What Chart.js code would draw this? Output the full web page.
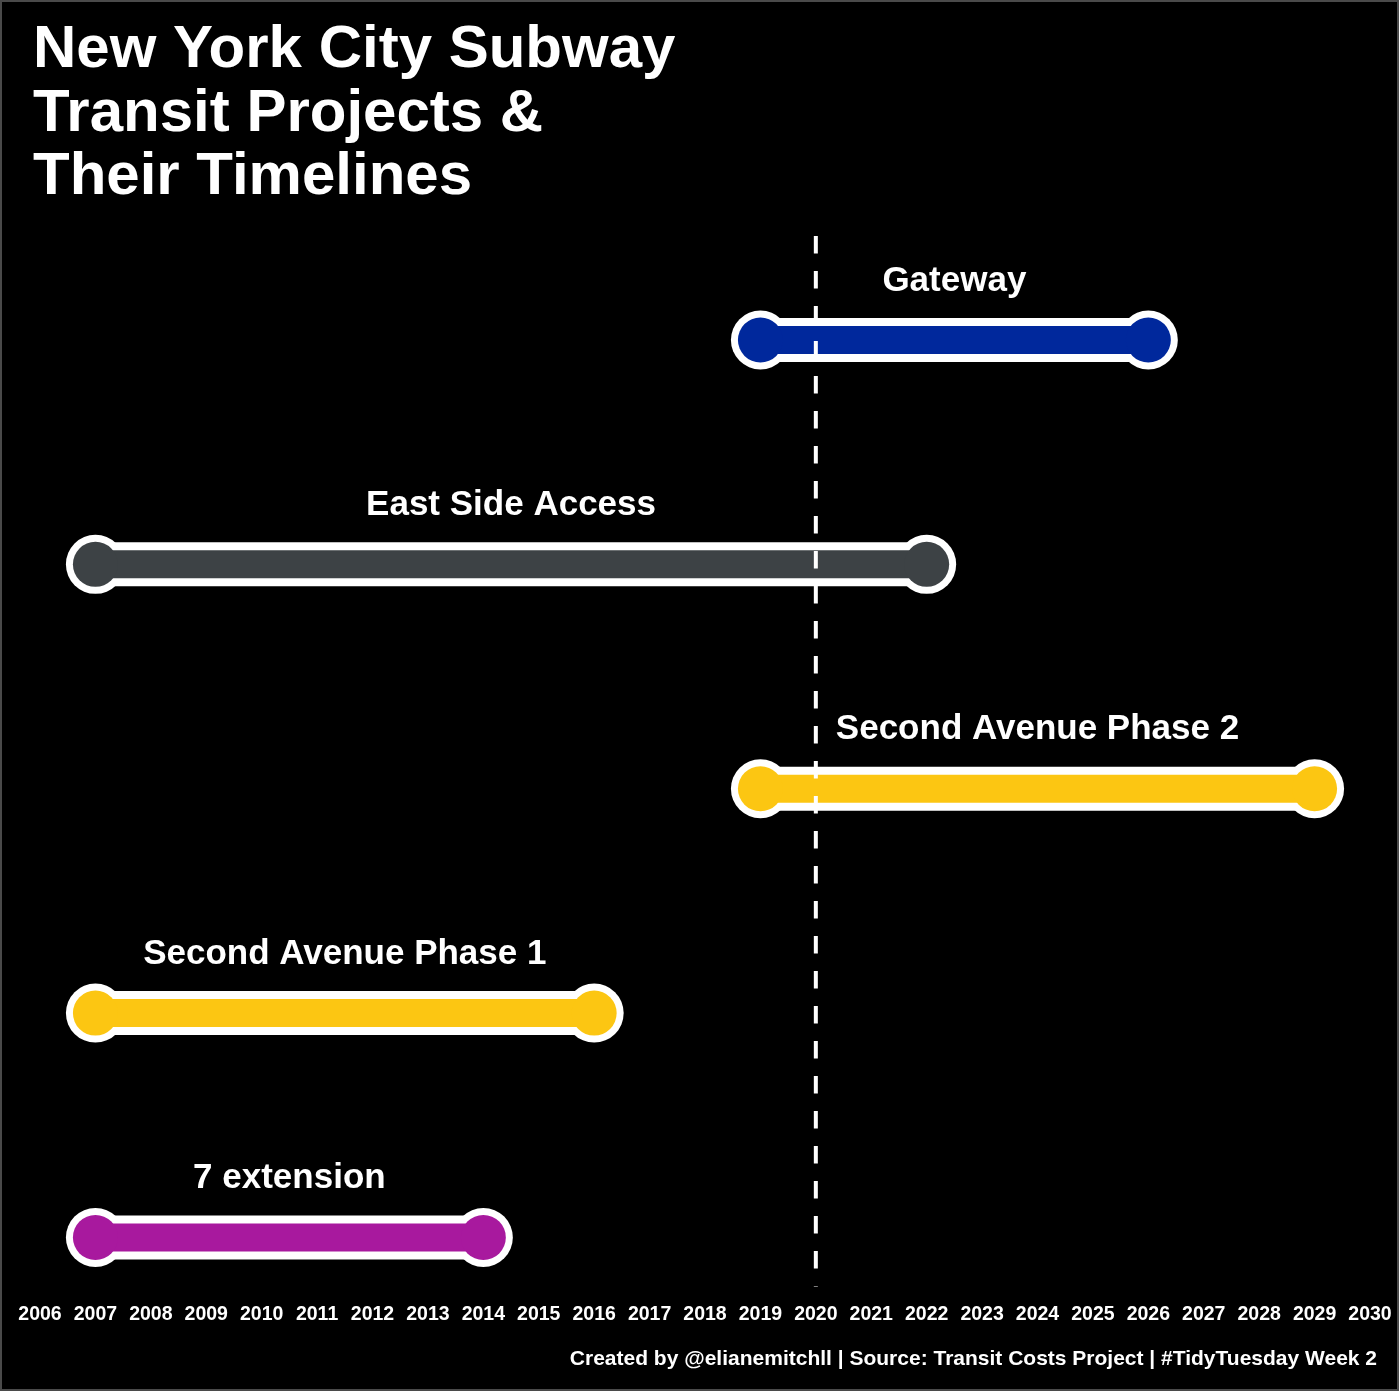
<!DOCTYPE html>
<html>
<head>
<meta charset="utf-8">
<script src="https://cdn.jsdelivr.net/npm/chart.js@4.4.1/dist/chart.umd.min.js"></script>
<style>
  html, body { margin: 0; padding: 0; background: #000; }
  #wrap { width: 1399px; height: 1391px; position: relative; }
  canvas { display: block; }
</style>
</head>
<body>
<div id="wrap"><canvas id="c" width="1399" height="1391"></canvas></div>
<script>
// ---- data ----
const projects = ["7 extension", "Second Avenue Phase 1", "Second Avenue Phase 2", "East Side Access", "Gateway"];
const startYears = [2007, 2007, 2019, 2007, 2019];
const endYears = [2014, 2016, 2029, 2022, 2026];
const lineColors = ["#A8199E", "#FCC612", "#FCC612", "#3D4245", "#00289C"];
const yearTicks = [2006, 2007, 2008, 2009, 2010, 2011, 2012, 2013, 2014, 2015, 2016, 2017, 2018,
                   2019, 2020, 2021, 2022, 2023, 2024, 2025, 2026, 2027, 2028, 2029, 2030];
const referenceYear = 2020;
const titleLines = ["New York City Subway", "Transit Projects &", "Their Timelines"];
const captionText = "Created by @elianemitchll | Source: Transit Costs Project | #TidyTuesday Week 2";

const FONT = "'Liberation Sans', 'Helvetica Neue', Helvetica, Arial, sans-serif";

// ---- datasets ----
const datasets = [];
projects.forEach((p, i) => {
  const pts = [{x: startYears[i], y: i + 1}, {x: endYears[i], y: i + 1}];
  datasets.push({
    label: p + " outline",
    data: pts,
    borderColor: "#ffffff",
    borderWidth: 44,
    pointRadius: 29.5,
    pointBackgroundColor: "#ffffff",
    pointBorderWidth: 0,
    order: 2
  });
  datasets.push({
    label: p,
    data: pts,
    borderColor: lineColors[i],
    borderWidth: 28,
    pointRadius: 22.5,
    pointBackgroundColor: lineColors[i],
    pointBorderWidth: 0,
    order: 1
  });
});

const decorPlugin = {
  id: "decor",
  beforeDraw(chart) {
    const ctx = chart.ctx;
    ctx.save();
    ctx.fillStyle = "#000";
    ctx.fillRect(0, 0, chart.width, chart.height);
    ctx.restore();
  },
  afterDatasetsDraw(chart) {
    const ctx = chart.ctx;
    const xs = chart.scales.x, ys = chart.scales.y;
    const area = chart.chartArea;
    // project labels
    ctx.save();
    ctx.fillStyle = "#fff";
    ctx.font = "bold 35px " + FONT;
    ctx.textAlign = "center";
    ctx.textBaseline = "alphabetic";
    projects.forEach((p, i) => {
      const mid = (startYears[i] + endYears[i]) / 2;
      ctx.fillText(p, xs.getPixelForValue(mid), ys.getPixelForValue(i + 1 + 0.22));
    });
    ctx.restore();
    // dashed reference line
    ctx.save();
    ctx.strokeStyle = "#fff";
    ctx.lineWidth = 4;
    ctx.setLineDash([17.5, 17.5]);
    const xr = xs.getPixelForValue(referenceYear);
    ctx.beginPath();
    ctx.moveTo(xr, area.top + 1);
    ctx.lineTo(xr, area.bottom + 2);
    ctx.stroke();
    ctx.restore();
  },
  afterDraw(chart) {
    const ctx = chart.ctx;
    ctx.save();
    // title
    ctx.fillStyle = "#fff";
    ctx.font = "bold 60px " + FONT;
    ctx.textAlign = "left";
    ctx.textBaseline = "alphabetic";
    titleLines.forEach((t, k) => ctx.fillText(t, 33, 67 + k * 63.5));
    // caption
    ctx.font = "bold 21px " + FONT;
    ctx.textAlign = "right";
    ctx.fillText(captionText, 1377, 1365);
    // border
    ctx.strokeStyle = "#4a4a4a";
    ctx.lineWidth = 2;
    ctx.strokeRect(1, 1, chart.width - 2, chart.height - 2);
    ctx.restore();
  }
};

new Chart(document.getElementById("c"), {
  type: "line",
  data: { datasets },
  options: {
    responsive: false,
    animation: false,
    events: [],
    layout: { autoPadding: false, padding: { top: 235, left: 40, right: 29, bottom: 47 } },
    plugins: { legend: { display: false }, tooltip: { enabled: false }, title: { display: false } },
    scales: {
      x: {
        type: "linear",
        min: yearTicks[0],
        max: yearTicks[yearTicks.length - 1],
        afterBuildTicks(scale) { scale.ticks = yearTicks.map(v => ({ value: v })); },
        afterFit(scale) { scale.paddingLeft = 0; scale.paddingRight = 0; },
        grid: { display: false, drawTicks: false },
        border: { display: false },
        ticks: {
          color: "#fff",
          padding: 18,
          autoSkip: false,
          maxRotation: 0,
          font: { family: FONT, size: 19.5, weight: "bold" },
          callback: v => String(v)
        }
      },
      y: {
        type: "linear",
        display: false,
        min: 0.79,
        max: 5.468
      }
    }
  },
  plugins: [decorPlugin]
});
</script>
</body>
</html>
